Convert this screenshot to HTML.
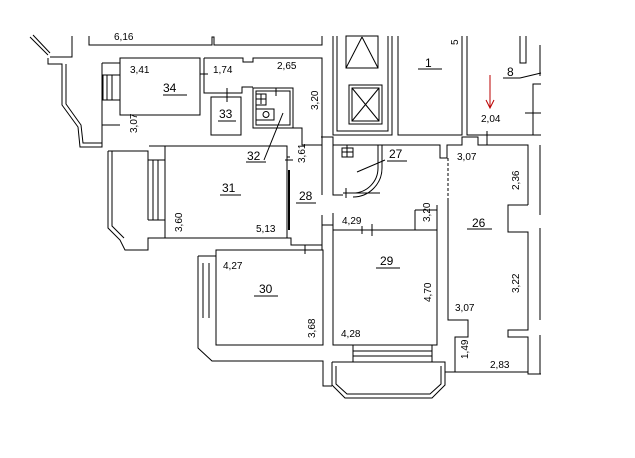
<!DOCTYPE html>
<html><head><meta charset="utf-8"><style>
html,body{margin:0;padding:0;background:#fff;width:635px;height:458px;overflow:hidden}
svg{display:block}
text{font-family:"Liberation Sans",Arial,sans-serif;font-size:10px;fill:#000}
.n{font-size:12px}
</style></head><body>
<svg width="635" height="458" viewBox="0 0 635 458" fill="none" stroke="#000" stroke-width="1">
<!-- top dimension -->
<polyline points="89,36 89,45 212,45 212,37 214,37 214,45 322,45 322,36"/>
<text x="114" y="40" stroke="none">6,16</text>
<!-- left balcony diagonal -->
<line x1="30" y1="37" x2="48" y2="55"/><line x1="33" y1="35" x2="50" y2="53"/>
<polyline points="50,57 72,57 72,36"/>
<polyline points="48,58 48,64 62,64 62,105 78,127 80,147 102,147 102,63"/>
<polyline points="66,64 66,104 81,125 83,143 102,143"/>
<!-- room 34 -->
<rect x="120" y="58" width="80" height="57"/>
<rect x="103" y="75" width="17" height="25"/>
<line x1="107" y1="75" x2="107" y2="100"/><line x1="112" y1="75" x2="112" y2="100"/>
<line x1="102" y1="63" x2="120" y2="63"/><line x1="102" y1="125" x2="120" y2="125"/>
<text x="130" y="73" stroke="none">3,41</text>
<text class="n" x="163" y="92" stroke="none">34</text><line x1="163" y1="95" x2="187" y2="95"/>
<text x="0" y="0" stroke="none" transform="translate(137,133) rotate(-90)">3,07</text>
<!-- corridor top -->
<polyline points="204,58 243,58 243,62 253,62 253,58 322,58 322,195"/>
<polyline points="204,58 204,93 242,93 242,87 253,87"/>
<line x1="200" y1="74" x2="208" y2="74"/><line x1="204" y1="70" x2="204" y2="78"/>
<text x="213" y="73" stroke="none">1,74</text>
<text x="277" y="69" stroke="none">2,65</text>
<text x="0" y="0" stroke="none" transform="translate(318,110) rotate(-90)">3,20</text>
<!-- 33 -->
<rect x="211" y="97" width="30" height="38"/>
<line x1="227" y1="88" x2="227" y2="102"/><line x1="222" y1="97" x2="232" y2="97"/>
<text class="n" x="219" y="118" stroke="none">33</text><line x1="218" y1="121" x2="236" y2="121"/>
<!-- 32 -->
<rect x="253" y="88" width="40" height="40"/>
<rect x="256" y="91" width="34" height="34"/>
<rect x="256" y="94" width="10" height="11"/><line x1="256" y1="99" x2="266" y2="99"/><line x1="261" y1="94" x2="261" y2="104"/>
<rect x="256" y="109" width="18" height="11"/><circle cx="266" cy="114.5" r="3"/>
<line x1="276" y1="88" x2="276" y2="96"/><line x1="271" y1="91" x2="281" y2="91"/>
<line x1="283" y1="113" x2="264" y2="160"/>
<polyline points="293,128 302,128 302,145 322,145"/>
<text class="n" x="247" y="160" stroke="none">32</text><line x1="246" y1="162" x2="266" y2="162"/>
<!-- 31 -->
<rect x="165" y="146" width="122" height="92"/>
<line x1="149" y1="146" x2="165" y2="146"/>
<polyline points="108,151 148,151 148,160 165,160"/><line x1="148" y1="160" x2="148" y2="220"/>
<line x1="153" y1="160" x2="153" y2="220"/><line x1="158" y1="160" x2="158" y2="220"/>
<line x1="148" y1="220" x2="165" y2="220"/>
<polyline points="108,151 108,228 120,240 125,250 148,250 148,238 165,238"/>
<polyline points="112,151 112,226 124,238"/>
<line x1="287" y1="157" x2="290" y2="157"/><line x1="285" y1="160" x2="293" y2="160"/>
<line x1="289" y1="170" x2="289" y2="230" stroke-width="2"/>
<text x="0" y="0" stroke="none" transform="translate(305,163) rotate(-90)">3,61</text>
<text class="n" x="222" y="192" stroke="none">31</text><line x1="220" y1="195" x2="241" y2="195"/>
<text x="0" y="0" stroke="none" transform="translate(182,232) rotate(-90)">3,60</text>
<text x="256" y="232" stroke="none">5,13</text>
<!-- 28 -->
<polyline points="287,238 291,238 291,245 322,245 322,215"/>
<polyline points="322,250 322,225 333,225"/>
<text class="n" x="299" y="200" stroke="none">28</text><line x1="296" y1="203" x2="316" y2="203"/>
<!-- elevators -->
<polyline points="333,36 333,135 392,135 392,36"/>
<polyline points="337,36 337,131 388,131 388,36"/>
<rect x="346" y="36" width="32" height="32"/><line x1="346" y1="68" x2="362" y2="37"/><line x1="378" y1="68" x2="362" y2="37"/>
<rect x="349" y="85" width="33" height="39"/><rect x="352" y="88" width="27" height="33"/>
<line x1="352" y1="88" x2="379" y2="121"/><line x1="379" y1="88" x2="352" y2="121"/>
<polyline points="398,36 398,135 462,135 462,36"/>
<polyline points="467,36 467,135 541,135"/>
<text class="n" x="425" y="67" stroke="none">1</text><line x1="418" y1="69" x2="442" y2="69"/>
<text x="0" y="0" stroke="none" transform="translate(458,45) rotate(-90)">5</text>
<!-- 8 -->
<polyline points="520,36 520,63 526,63 526,36"/><polyline points="540,45 540,76"/>
<text class="n" x="507" y="76" stroke="none">8</text><line x1="503" y1="78" x2="520" y2="78"/>
<line x1="520" y1="78" x2="541" y2="73"/>
<polyline points="541,84 533,84 533,135"/>
<line x1="525" y1="113" x2="541" y2="113"/>
<line x1="490" y1="75" x2="490" y2="108" stroke="#b00"/><polyline points="486,100 490,108 494,100" stroke="#b00"/>
<text x="481" y="122" stroke="none">2,04</text>
<!-- 27 -->
<polyline points="321,137 333,137 333,145 440,145 440,158 447,158 447,145 462,145 462,137 478,137 478,145 528,145 528,205"/>
<polyline points="333,145 333,195 343,195"/>
<line x1="343" y1="193" x2="380" y2="193"/>
<rect x="342" y="148" width="11" height="9"/><line x1="347" y1="145" x2="347" y2="157"/><line x1="342" y1="152" x2="353" y2="152"/>
<path d="M378,145 L378,168 A25,25 0 0 1 353,193"/><path d="M382,145 L382,168 A29,29 0 0 1 353,197"/>
<line x1="346" y1="188" x2="346" y2="198"/>
<line x1="357" y1="172" x2="385" y2="160"/>
<text class="n" x="389" y="158" stroke="none">27</text><line x1="387" y1="161" x2="407" y2="161"/>
<line x1="487" y1="131" x2="487" y2="145"/>
<text x="457" y="160" stroke="none">3,07</text>
<line x1="448" y1="158" x2="448" y2="205" stroke-dasharray="3,2"/>
<text x="0" y="0" stroke="none" transform="translate(519,190) rotate(-90)">2,36</text>
<!-- 26 -->
<polyline points="528,205 508,205 508,232 528,232 528,330 508,330 508,337 528,337 528,374"/>
<polyline points="540,145 540,215"/><polyline points="540,228 540,320"/><polyline points="540,335 540,374"/>
<text class="n" x="472" y="227" stroke="none">26</text><line x1="467" y1="229" x2="492" y2="229"/>
<text x="0" y="0" stroke="none" transform="translate(519,293) rotate(-90)">3,22</text>
<polyline points="448,200 448,320 468,320 468,337 455,337 455,372 528,372 528,374 541,374"/>
<text x="455" y="311" stroke="none">3,07</text>
<text x="0" y="0" stroke="none" transform="translate(468,359) rotate(-90)">1,49</text>
<text x="490" y="368" stroke="none">2,83</text>
<!-- 29 -->
<polyline points="437,205 437,345 333,345 333,230 437,230"/>
<polyline points="322,250 322,225 333,225 333,230"/><line x1="333" y1="225" x2="333" y2="213"/>
<line x1="415" y1="210" x2="437" y2="210"/><line x1="415" y1="210" x2="415" y2="230"/>
<line x1="362" y1="226" x2="362" y2="234"/><line x1="372" y1="224" x2="372" y2="236"/>
<text x="342" y="224" stroke="none">4,29</text>
<text x="0" y="0" stroke="none" transform="translate(430,222) rotate(-90)">3,20</text>
<text class="n" x="380" y="265" stroke="none">29</text><line x1="376" y1="268" x2="400" y2="268"/>
<text x="0" y="0" stroke="none" transform="translate(431,302) rotate(-90)">4,70</text>
<text x="341" y="337" stroke="none">4,28</text>
<!-- 30 -->
<rect x="216" y="250" width="107" height="95"/>
<line x1="305" y1="245" x2="305" y2="254"/><line x1="300" y1="250" x2="311" y2="250"/>
<polyline points="198,256 216,256"/><line x1="203" y1="263" x2="203" y2="318"/><line x1="209" y1="263" x2="209" y2="318"/>
<polyline points="198,256 198,348 212,361 323,361 323,386 332,386"/>
<text x="223" y="269" stroke="none">4,27</text>
<text class="n" x="259" y="293" stroke="none">30</text><line x1="254" y1="296" x2="278" y2="296"/>
<text x="0" y="0" stroke="none" transform="translate(315,338) rotate(-90)">3,68</text>
<!-- bay -->
<rect x="353" y="345" width="79" height="17"/><line x1="353" y1="351" x2="432" y2="351"/><line x1="353" y1="356" x2="432" y2="356"/>
<polyline points="332,362 332,385 345,398 432,398 445,385 445,362 332,362"/>
<polyline points="336,366 336,384 347,394 430,394 441,384 441,366"/>
<line x1="445" y1="372" x2="455" y2="372"/>
</svg>
</body></html>
